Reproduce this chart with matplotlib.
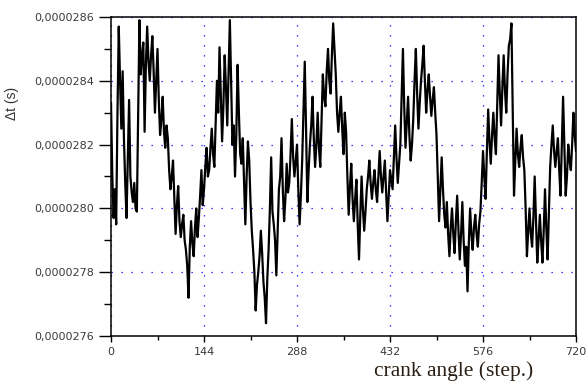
import numpy as np
import matplotlib
matplotlib.use('Agg')
import matplotlib.pyplot as plt
from matplotlib.ticker import MultipleLocator, FuncFormatter

# crank angle steps (every 2 steps) and time step values in units of 1e-7 s
steps = np.arange(0, 722, 2)
dt_e7 = [
    283.3, 281.0, 279.7, 280.6, 279.5, 283.0, 285.7, 284.0, 282.5, 284.3,
    282.2, 280.8, 279.7, 281.5, 283.4, 281.0, 280.5, 280.2, 280.8, 280.0,
    279.9, 282.8, 285.9, 284.2, 284.8, 285.2, 282.4, 284.5, 285.7, 284.6,
    284.0, 284.8, 285.4, 284.3, 283.0, 284.0, 285.0, 283.4, 282.3, 282.8,
    283.5, 282.4, 281.9, 282.6, 282.2, 281.2, 280.6, 281.0, 281.5, 280.3,
    279.2, 280.1, 280.7, 279.6, 279.1, 279.5, 279.8, 279.0, 278.7, 278.2,
    277.2, 278.8, 279.6, 278.9, 278.5, 279.4, 280.0, 279.1, 279.7, 280.4,
    281.2, 280.1, 280.6, 281.3, 281.9, 281.0, 281.2, 281.9, 282.5, 281.7,
    281.3, 282.6, 284.0, 283.0, 285.05, 283.6, 282.1, 283.2, 284.8, 283.8,
    282.6, 284.2, 285.9, 284.0, 282.0, 282.6, 281.0, 282.3, 284.5, 283.0,
    281.7, 281.4, 282.2, 280.8, 279.5, 281.0, 282.1, 281.5, 280.2, 279.3,
    278.7, 278.0, 276.8, 277.6, 278.0, 278.5, 279.3, 278.6, 277.7, 277.2,
    276.4, 277.8, 278.7, 280.0, 281.6, 279.9, 279.5, 279.0, 277.9, 279.3,
    280.6, 281.0, 282.2, 280.6, 279.6, 280.3, 281.4, 280.5, 280.8, 281.7,
    282.8, 281.6, 281.0, 281.5, 282.0, 280.6, 279.5, 280.4, 281.5, 283.0,
    284.6, 282.5, 280.2, 281.2, 282.0, 282.6, 283.5, 282.2, 281.3, 282.0,
    283.0, 281.9, 281.3, 282.8, 284.2, 283.5, 283.2, 284.3, 285.0, 284.0,
    283.6, 284.8, 285.8, 285.0, 284.2, 283.0, 282.4, 283.0, 283.5, 282.5,
    281.7, 283.0, 282.4, 281.0, 279.8, 280.7, 281.4, 280.3, 279.6, 280.3,
    280.9, 279.5, 278.4, 279.8, 281.0, 280.0, 279.3, 279.9, 280.6, 281.0,
    281.5, 280.8, 280.3, 280.8, 281.2, 280.6, 280.2, 281.0, 281.8, 281.0,
    280.5, 281.0, 281.5, 280.5, 279.6, 280.4, 281.2, 280.9, 280.6, 281.6,
    282.6, 281.6, 280.8, 281.4, 282.0, 283.5, 285.0, 283.2, 281.9, 282.7,
    283.5, 282.3, 281.5, 282.0, 282.8, 284.0, 285.0, 283.6, 282.5, 283.3,
    284.0, 284.5, 285.1, 284.0, 283.0, 283.7, 284.2, 283.5, 282.9, 283.4,
    283.8, 283.0, 282.3, 281.0, 279.6, 280.6, 281.6, 280.6, 279.8, 279.4,
    280.2, 279.2, 278.5, 279.4, 280.0, 279.2, 278.6, 279.6, 280.4, 279.3,
    278.4, 279.2, 280.2, 279.0, 278.2, 278.8, 277.4, 278.9, 280.0, 279.2,
    278.7, 279.4, 279.8, 279.2, 278.8, 279.5, 279.9, 280.8, 281.8, 281.0,
    280.3, 281.8, 283.1, 282.1, 281.4, 282.3, 283.0, 282.2, 281.7, 283.2,
    284.8, 283.6, 282.6, 283.8, 284.8, 283.7, 283.0, 284.2, 285.1, 285.3,
    285.8, 283.0, 280.4, 281.5, 282.5, 281.7, 281.3, 281.9, 282.3, 281.6,
    281.2, 280.0, 278.5, 279.3, 280.0, 279.2, 278.8, 279.7, 281.0, 279.6,
    278.3, 279.0, 279.8, 279.0, 278.3, 279.3, 280.6, 279.4, 278.4, 279.8,
    281.3, 282.0, 282.6, 281.8, 281.3, 281.8, 282.2, 281.2, 280.4, 282.0,
    283.5, 282.0, 280.4, 281.0, 282.0, 281.5, 281.2, 282.0, 283.0, 282.3,
    281.8,
]
dt = np.array(dt_e7) * 1e-7

x_ticks = [0, 144, 288, 432, 576, 720]
y_ticks = [0.0000276, 0.0000278, 0.0000280, 0.0000282, 0.0000284, 0.0000286]

fig = plt.figure(figsize=(5.88, 3.81), dpi=100)
ax = fig.add_axes([0.1888, 0.1181, 0.7908, 0.8373])

ax.plot(steps, dt, color='black', linewidth=1.6, zorder=3)

ax.set_xlim(0, 720)
ax.set_ylim(0.0000276, 0.0000286)
ax.set_xticks(x_ticks)
ax.set_yticks(y_ticks)
ax.xaxis.set_minor_locator(MultipleLocator(72))
ax.yaxis.set_minor_locator(MultipleLocator(0.0000001))
ax.yaxis.set_major_formatter(FuncFormatter(lambda v, p: ('%.7f' % v).replace('.', ',')))

ax.tick_params(which='both', direction='out', top=False, right=False,
               labelsize=8, labelcolor='#3a3a3a', width=1.0)
ax.tick_params(axis='y', which='major', length=9, pad=3)
ax.tick_params(axis='y', which='minor', length=5)
ax.tick_params(axis='x', which='major', length=4, pad=4)
ax.tick_params(axis='x', which='minor', length=3)
for lab in ax.get_xticklabels() + ax.get_yticklabels():
    lab.set_family('DejaVu Sans')

ax.grid(True, which='major', color='blue', linestyle=(0, (1, 7)), linewidth=0.9, zorder=1)
for s in ax.spines.values():
    s.set_linewidth(1.1)

ax.set_ylabel('Δt (s)', fontsize=10, family='Liberation Sans', color='#333333')
ax.yaxis.set_label_coords(-0.198, 0.73)
ax.set_xlabel('crank angle (step.)', fontsize=15.5, family='Liberation Serif', color='#2b2015')
ax.xaxis.set_label_coords(0.736, -0.08)

fig.savefig('out.png', dpi=100)
